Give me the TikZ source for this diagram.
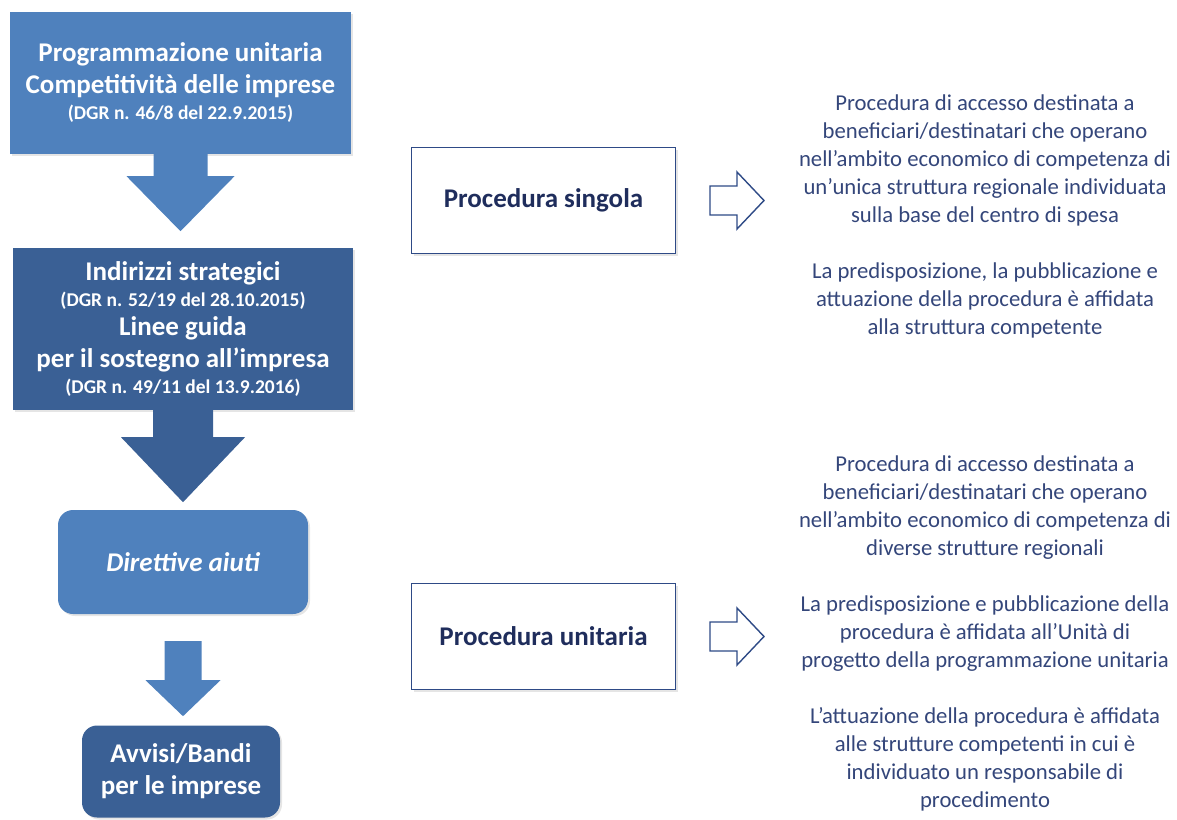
\documentclass[tikz,border=0pt]{standalone}
\usepackage{fontspec}
\setmainfont{Carlito}
\usepackage{tikz}
\usepackage{xcolor}
\usetikzlibrary{positioning,calc,shadows}
\definecolor{midblue}{HTML}{4F81BD}
\definecolor{darkblue}{HTML}{3A6095}
\definecolor{framenavy}{HTML}{2E4A86}
\definecolor{labelnavy}{HTML}{1F2D5C}
\definecolor{notenavy}{HTML}{34467A}
\newcommand{\dgr}[1]{{\fontsize{19.5}{24}\selectfont #1}}

\begin{document}
\begin{tikzpicture}[x=1pt,y=-1pt,
  softshadow/.style={drop shadow={shadow xshift=2pt,shadow yshift=-2pt,fill=black!20}},
  bluebox/.style={fill=#1,text=white,align=center,inner sep=0pt,softshadow,
                  font=\bfseries\fontsize{27}{32}\selectfont},
  procbox/.style={draw=framenavy,line width=1pt,fill=white,softshadow,
                  text=labelnavy,font=\bfseries\fontsize{27}{32}\selectfont,
                  minimum width=264pt,minimum height=106pt},
  note/.style={text=notenavy,align=center,font=\fontsize{22.7}{28}\selectfont},
  outarrow/.style={draw=framenavy,line width=1.4pt,fill=white,line join=miter}]
  \useasboundingbox (0,0) rectangle (1177,819);
  % left column
  \node[bluebox=midblue,minimum width=341pt,minimum height=142pt] (prog) at (180.5,83)
   {Programmazione unitaria\\Competitività delle imprese\\[-6pt]\dgr{(DGR n. 46/8 del 22.9.2015)}};
  \node[bluebox=darkblue,minimum width=340pt,minimum height=162pt] (indirizzi) at (183,329)
   {Indirizzi strategici\\[-6pt]\dgr{(DGR n. 52/19 del 28.10.2015)}\\[-3pt]Linee guida\\
    per il sostegno all’impresa\\[-6pt]\dgr{(DGR n. 49/11 del 13.9.2016)}};
  \node[bluebox=midblue,rounded corners=15pt,minimum width=250pt,minimum height=104pt,
        font=\bfseries\itshape\fontsize{27}{32}\selectfont] (direttive) at (183,562)
   {Direttive aiuti};
  \node[bluebox=darkblue,rounded corners=15pt,minimum width=198pt,minimum height=92pt]
   (avvisi) at (181,771.5) {Avvisi/Bandi\\per le imprese};
  \fill[midblue] (prog.south) ++(-27,0) -- ++(0,22) -- ++(-27,0) -- ++(54,55)
    -- ++(54,-55) -- ++(-27,0) -- ++(0,-22) -- cycle;
  \fill[darkblue] (indirizzi.south) ++(-30,0) -- ++(0,27) -- ++(-32,0) -- ++(62,65)
    -- ++(62,-65) -- ++(-32,0) -- ++(0,-27) -- cycle;
  \fill[midblue] (direttive.south) ++(-18.5,27) -- ++(0,39) -- ++(-19,0) -- ++(37.5,36)
    -- ++(37.5,-36) -- ++(-19,0) -- ++(0,-39) -- cycle;
  % middle column
  \node[procbox] (singola) at (543.5,200.5) {Procedura singola};
  \node[procbox] (unitaria) at (543.5,636.5) {Procedura unitaria};
  \foreach \src in {singola,unitaria}{
    \draw[outarrow] (\src.east) ++(34,-14.5) -- ++(27,0) -- ++(0,-14) -- ++(27,28.5)
      -- ++(-27,28.5) -- ++(0,-14) -- ++(-27,0) -- cycle;
  }
  % right column
  \node[note] (notesingola) at (985,216.5)
   {Procedura di accesso destinata a\\beneficiari/destinatari che operano\\
    nell’ambito economico di competenza di\\un’unica struttura regionale individuata\\
    sulla base del centro di spesa\\[28pt]
    La predisposizione, la pubblicazione e\\attuazione della procedura è affidata\\
    alla struttura competente};
  \node[note] (noteunitaria) at (985,633)
   {Procedura di accesso destinata a\\beneficiari/destinatari che operano\\
    nell’ambito economico di competenza di\\diverse strutture regionali\\[28pt]
    La predisposizione e pubblicazione della\\procedura è affidata all’Unità di\\
    progetto della programmazione unitaria\\[28pt]
    L’attuazione della procedura è affidata\\alle strutture competenti in cui è\\
    individuato un responsabile di\\procedimento};
\end{tikzpicture}
\end{document}
